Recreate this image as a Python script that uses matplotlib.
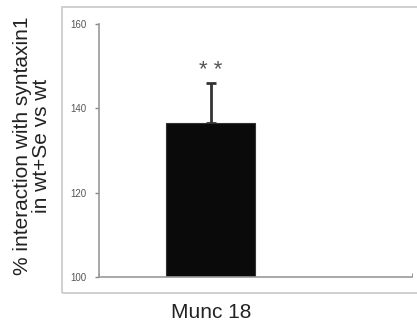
import matplotlib
matplotlib.use("Agg")
import matplotlib.pyplot as plt
from matplotlib.patches import Rectangle

categories = ["Munc 18"]
values = [136.6]
errors_up = [9.4]
yticks = [100, 120, 140, 160]
significance = ["* *"]

plt.rcParams['font.family'] = ['Liberation Sans', 'DejaVu Sans']

fig = plt.figure(figsize=(4.17, 3.26), dpi=100)

# outer chart border
border = Rectangle((62/417, 1-293/326), 1.0, (293-7)/326, transform=fig.transFigure,
                   fill=False, edgecolor='#c8c8c8', linewidth=1.2, clip_on=False)
fig.patches.append(border)

ax = fig.add_axes([99/417, 1-277/326, (412-99)/417, (277-24)/326])
x = list(range(len(categories)))
ax.bar(x, values, width=1.0, bottom=0, color='#0a0a0a', edgecolor='#333333', linewidth=0.8, zorder=2)
ax.errorbar(x, values, yerr=[[0]*len(values), errors_up], fmt='none', ecolor='#333333',
            elinewidth=2, capsize=3.3, capthick=2, zorder=1)
for xi, v, e, s in zip(x, values, errors_up, significance):
    ax.text(xi, v + e + 1.6, s, ha='center', va='baseline', fontsize=16, color='#555555')

ax.set_ylim(100, 160)
ax.set_xlim(-1.258, 2.258)
ax.set_yticks(yticks)
ax.set_yticklabels([str(t) for t in yticks], fontsize=7, color='#555555')
ax.set_xticks(x)
ax.set_xticklabels(categories, fontsize=15, color='#222222')
ax.tick_params(axis='x', length=0, pad=19)
ax.set_xticks([-1.258, 2.258], minor=True)
ax.tick_params(axis='x', which='minor', length=3, color='#888888', direction='in')
ax.tick_params(axis='y', length=3, color='#888888', width=1, pad=6)
for side in ['top', 'right']:
    ax.spines[side].set_visible(False)
for side in ['left', 'bottom']:
    ax.spines[side].set_color('#999999')
    ax.spines[side].set_linewidth(1.2)

fig.text(32/417, 1-146/326, "% interaction with syntaxin1\nin wt+Se vs wt", rotation=90,
         ha='center', va='center', multialignment='center', fontsize=15, color='#222222',
         linespacing=1.05)

fig.savefig("out.png", dpi=100)
